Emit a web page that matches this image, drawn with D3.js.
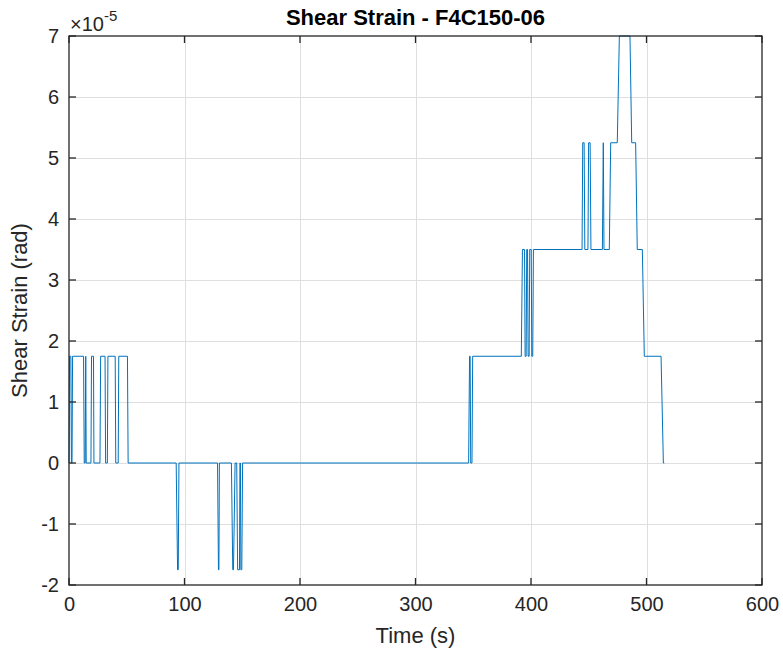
<!DOCTYPE html>
<html>
<head>
<meta charset="utf-8">
<script src="https://cdn.jsdelivr.net/npm/d3@7"></script>
<style>
  body { margin: 0; background: #fff; }
  svg { display: block; font-family: "Liberation Sans", Arial, Helvetica, sans-serif; }
</style>
</head>
<body>
<svg id="chart" width="783" height="657"></svg>
<script>
// ---- data (time in s, strain in units of 1e-5 rad) ----
const timeS = [0,0.5,1.6,2.1,2.6,3.1,12.6,13.2,14.0,14.5,14.9,19.0,19.5,21.2,21.6,26.8,27.4,31.2,31.7,33.2,33.7,40.0,40.5,42.6,43.1,50.6,51.2,
  92.8,94.0,94.6,95.2,
  128.6,129.4,129.8,130.2,
  140.6,141.8,142.4,143.8,145.2,146.0,147.6,148.0,148.4,148.8,149.6,150.3,
  346.0,346.8,347.3,347.8,348.9,349.5,
  391.6,392.6,394.4,394.9,395.8,396.3,397.0,397.5,398.4,398.9,400.2,400.7,401.5,402.1,
  444.2,444.8,446.0,446.6,449.3,449.9,451.2,451.9,461.8,462.6,463.2,
  467.8,469.0,474.7,476.5,485.7,487.2,490.6,492.0,496.4,498.1,512.6,514.6,515.4];
const strain = [0,1.75,1.75,0,0,1.75,1.75,0,0,1.75,0,0,1.75,1.75,0,0,1.75,1.75,0,0,1.75,1.75,0,0,1.75,1.75,0,
  0,-1.75,-1.75,0,
  0,-1.75,-1.75,0,
  0,-1.75,-1.75,0,0,-1.75,-1.75,0,0,-1.75,-1.75,0,
  0,1.75,1.75,0,0,1.75,
  1.75,3.5,3.5,1.75,1.75,3.5,3.5,1.75,1.75,3.5,3.5,1.75,1.75,3.5,
  3.5,5.25,5.25,3.5,3.5,5.25,5.25,3.5,3.5,5.25,3.5,
  3.5,5.25,5.25,7,7,5.25,5.25,3.5,3.5,1.75,1.75,0,0];
const xTicks = [0,100,200,300,400,500,600];
const yTicks = [-2,-1,0,1,2,3,4,5,6,7];
const titleText = "Shear Strain - F4C150-06";
const xLabel = "Time (s)";
const yLabel = "Shear Strain (rad)";

// ---- layout ----
const L = 69, R = 762, T = 36, B = 585;
const axisCol = "#262626";
const svg = d3.select("#chart");

const x = d3.scaleLinear().domain([0, 600]).range([L, R]);
const y = d3.scaleLinear().domain([-2, 7]).range([B, T]);

// grid
const grid = svg.append("g").attr("stroke", "#dfdfdf").attr("stroke-width", 1);
grid.selectAll(".gx").data(xTicks.slice(1, -1)).join("line")
  .attr("x1", d => Math.round(x(d)) + 0.5).attr("x2", d => Math.round(x(d)) + 0.5)
  .attr("y1", T).attr("y2", B);
grid.selectAll(".gy").data(yTicks.slice(1, -1)).join("line")
  .attr("y1", d => Math.round(y(d)) + 0.5).attr("y2", d => Math.round(y(d)) + 0.5)
  .attr("x1", L).attr("x2", R);

// line
const pts = timeS.map((t, i) => [t, strain[i]]);
const line = d3.line().x(d => x(d[0])).y(d => y(d[1]));
svg.append("path").datum(pts)
  .attr("d", line)
  .attr("fill", "none")
  .attr("stroke", "#0072BD")
  .attr("stroke-width", 1)
  .attr("stroke-linejoin", "round");

// axes (MATLAB-style box with inward ticks)
const tickLen = 7;
const fontSize = 20;
const fmt = d => String(d);
const axBottom = d3.axisBottom(x).tickValues(xTicks).tickSize(0).tickPadding(12).tickFormat(fmt);
const axLeft = d3.axisLeft(y).tickValues(yTicks).tickSize(0).tickPadding(10).tickFormat(fmt);
const gB = svg.append("g").attr("transform", `translate(0,${B})`).call(axBottom);
const gL = svg.append("g").attr("transform", `translate(${L},0)`).call(axLeft);
[gB, gL].forEach(g => {
  g.select(".domain").remove();
  g.selectAll("text").attr("fill", axisCol).attr("font-size", fontSize);
});
gB.selectAll("text").attr("dy", "0.71em");

const ticks = svg.append("g").attr("stroke", axisCol).attr("stroke-width", 1.3);
ticks.selectAll(".tb").data(xTicks).join("line")
  .attr("x1", d => x(d)).attr("x2", d => x(d)).attr("y1", B).attr("y2", B - tickLen);
ticks.selectAll(".tt").data(xTicks).join("line")
  .attr("x1", d => x(d)).attr("x2", d => x(d)).attr("y1", T).attr("y2", T + tickLen);
ticks.selectAll(".tl").data(yTicks).join("line")
  .attr("y1", d => y(d)).attr("y2", d => y(d)).attr("x1", L).attr("x2", L + tickLen);
ticks.selectAll(".tr").data(yTicks).join("line")
  .attr("y1", d => y(d)).attr("y2", d => y(d)).attr("x1", R).attr("x2", R - tickLen);

svg.append("rect").attr("x", L).attr("y", T).attr("width", R - L).attr("height", B - T)
  .attr("fill", "none").attr("stroke", axisCol).attr("stroke-width", 1.3);

// exponent label
const expT = svg.append("text").attr("x", 70).attr("y", 31).attr("fill", axisCol).attr("font-size", fontSize);
expT.append("tspan").text("×10");
expT.append("tspan").attr("font-size", 15).attr("dy", -10).text("-5");

// title
svg.append("text").attr("x", (L + R) / 2).attr("y", 25).attr("text-anchor", "middle")
  .attr("font-size", 22).attr("font-weight", "bold").attr("fill", "#000").text(titleText);

// axis labels
svg.append("text").attr("x", (L + R) / 2).attr("y", 643).attr("text-anchor", "middle")
  .attr("font-size", 22).attr("fill", axisCol).text(xLabel);
svg.append("text").attr("transform", `translate(27,${(T + B) / 2}) rotate(-90)`).attr("text-anchor", "middle")
  .attr("font-size", 22).attr("fill", axisCol).text(yLabel);
</script>
</body>
</html>
